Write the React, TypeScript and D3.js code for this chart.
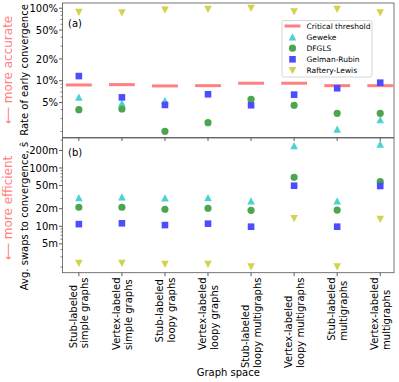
import { useEffect, useRef } from 'react';
import * as d3 from 'd3';

// graph spaces (two-line tick labels)
const categories = [
  ['Stub-labeled', 'simple graphs'],
  ['Vertex-labeled', 'simple graphs'],
  ['Stub-labeled', 'loopy graphs'],
  ['Vertex-labeled', 'loopy graphs'],
  ['Stub-labeled', 'loopy multigraphs'],
  ['Vertex-labeled', 'loopy multigraphs'],
  ['Stub-labeled', 'multigraphs'],
  ['Vertex-labeled', 'multigraphs'],
];

// (a) rate of early convergence, %
const thresholdRate = [8.75, 8.84, 8.48, 8.56, 9.24, 9.24, 8.56, 8.56];
const gewekeRate = [5.9, 4.9, 5.3, null, null, null, 2.14, 2.88];
const dfglsRate = [3.99, 4.08, 2.01, 2.64, 5.56, 4.59, 3.56, 3.56];
const gelmanRate = [11.6, 5.9, 4.64, 6.51, 4.59, 6.43, 7.88, 9.4];
const rafteryRate = [88.1, 86.9, 94.8, 96.9, 100, 89.8, 96.9, 86.9];

// (b) avg swaps to convergence, millions
const gewekeSwaps = [30.9, 31.8, 30.6, 30.9, 27.2, 241, 27.2, 255];
const dfglsSwaps = [21.2, 21.2, 19.6, 20.4, 18.8, 69.2, 19.0, 58.2];
const gelmanSwaps = [10.9, 11.25, 10.5, 11.1, 9.85, 49.7, 9.85, 49.1];
const rafterySwaps = [2.32, 2.32, 2.23, 2.23, 2.03, 13.7, 2.03, 13.2];

const rateTicks = [5, 10, 20, 50, 100];
const swapTicks = [5, 10, 20, 50, 100, 200];

const FONT = 'DejaVu Sans, sans-serif';
const RED = '#ff8080';

const series = [
  { name: 'Geweke', shape: 'up', color: '#4dd2d2' },
  { name: 'DFGLS', shape: 'circle', color: '#4da64d' },
  { name: 'Gelman-Rubin', shape: 'square', color: '#4d4dff' },
  { name: 'Raftery-Lewis', shape: 'down', color: '#d2d24d' },
];

function markerPath(shape: string, x: number, y: number) {
  const h = 3.8;
  if (shape === 'up') return `M${x},${y - h}L${x + h},${y + h * 0.9}L${x - h},${y + h * 0.9}Z`;
  if (shape === 'down') return `M${x},${y + h}L${x + h},${y - h * 0.9}L${x - h},${y - h * 0.9}Z`;
  if (shape === 'square') return `M${x - 3.3},${y - 3.3}h6.6v6.6h-6.6Z`;
  const r = 3.6;
  return `M${x + r},${y}A${r},${r} 0 1,1 ${x - r},${y}A${r},${r} 0 1,1 ${x + r},${y}Z`;
}

export default function App() {
  const svgRef = useRef<SVGSVGElement>(null);

  useEffect(() => {
    const svg = d3.select(svgRef.current);
    svg.selectAll('*').remove();

    const left = 62.5, right = 394;
    const x = d3.scaleLinear().domain([-0.38, 7.32]).range([left, right]);
    const yTop = d3.scaleLog().domain([1.65, 118]).range([137.5, 3]);
    const yBot = d3.scaleLog().domain([1.6, 327]).range([272.7, 138]);

    const panels = [
      { y: yTop, ticks: rateTicks, fmt: (d: number) => `${d}%`, data: [gewekeRate, dfglsRate, gelmanRate, rafteryRate], tag: '(a)', tagY: 27 },
      { y: yBot, ticks: swapTicks, fmt: (d: number) => `${d}m`, data: [gewekeSwaps, dfglsSwaps, gelmanSwaps, rafterySwaps], tag: '(b)', tagY: 155.5 },
    ];

    panels.forEach((p, pi) => {
      const [y0, y1] = p.y.range();
      const g = svg.append('g');

      // minor ticks on log axis
      const [d0, d1] = p.y.domain();
      const minors: number[] = [];
      for (let e = -1; e <= 3; e++) {
        for (let m = 1; m <= 9; m++) {
          const v = m * Math.pow(10, e);
          if (v >= d0 && v <= d1 && !p.ticks.includes(v)) minors.push(v);
        }
      }
      g.selectAll('.minor').data(minors).join('line')
        .attr('x1', left - 2).attr('x2', left)
        .attr('y1', d => p.y(d)).attr('y2', d => p.y(d))
        .attr('stroke', '#333').attr('stroke-width', 0.6);

      g.selectAll('.major').data(p.ticks).join('line')
        .attr('x1', left - 3.5).attr('x2', left)
        .attr('y1', d => p.y(d)).attr('y2', d => p.y(d))
        .attr('stroke', '#333').attr('stroke-width', 0.8);

      g.selectAll('.ylab').data(p.ticks).join('text')
        .attr('x', left - 4.5).attr('y', d => p.y(d))
        .attr('dy', '0.36em')
        .attr('text-anchor', 'end')
        .attr('font-family', FONT).attr('font-size', 10).attr('fill', '#000')
        .text(p.fmt);

      // x ticks
      g.selectAll('.xt').data(categories.map((_, i) => i)).join('line')
        .attr('x1', d => x(d)).attr('x2', d => x(d))
        .attr('y1', y0).attr('y2', y0 + 3.5)
        .attr('stroke', '#333').attr('stroke-width', 0.8);

      // threshold segments
      if (pi === 0) {
        g.selectAll('.thr').data(thresholdRate).join('line')
          .attr('x1', (d, i) => x(i - 0.3)).attr('x2', (d, i) => x(i + 0.3))
          .attr('y1', d => yTop(d)).attr('y2', d => yTop(d))
          .attr('stroke', RED).attr('stroke-width', 3);
      }

      series.forEach((s, si) => {
        const vals = p.data[si];
        g.selectAll(`.m${si}`)
          .data(vals.map((v, i) => ({ v, i })).filter(d => d.v != null))
          .join('path')
          .attr('d', d => markerPath(s.shape, x(d.i), p.y(d.v as number)))
          .attr('fill', s.color);
      });

      g.append('rect')
        .attr('x', left).attr('y', y1)
        .attr('width', right - left).attr('height', y0 - y1)
        .attr('fill', 'none').attr('stroke', '#555').attr('stroke-width', 0.8);

      g.append('text')
        .attr('x', 68).attr('y', p.tagY)
        .attr('font-family', FONT).attr('font-size', 10)
        .text(p.tag);
    });

    // x tick labels, two lines rotated, lines aligned at their start
    categories.forEach((lines, i) => {
      const tg = svg.append('g')
        .attr('transform', `translate(${x(i)},277.5) rotate(-90)`);
      const texts = lines.map((t, li) => tg.append('text')
        .attr('y', li === 0 ? -1.8 : 9.6)
        .attr('font-family', FONT).attr('font-size', 10)
        .text(t));
      const maxLen = d3.max(texts, t => (t.node() as SVGTextElement).getComputedTextLength()) || 0;
      texts.forEach(t => t.attr('x', -maxLen));
    });

    svg.append('text')
      .attr('x', (left + right) / 2).attr('y', 375.5)
      .attr('text-anchor', 'middle')
      .attr('font-family', FONT).attr('font-size', 10)
      .text('Graph space');

    // y labels
    const ylab = (txt: string, cx: number, cy: number, size: number, color: string) =>
      svg.append('text')
        .attr('transform', `translate(${cx},${cy}) rotate(-90)`)
        .attr('text-anchor', 'middle')
        .attr('font-family', FONT).attr('font-size', size).attr('fill', color)
        .text(txt);
    ylab('Rate of early convergence', 28, 70, 10, '#000');
    ylab('Avg. swaps to convergence, ŝ', 28, 216, 10, '#000');
    ylab('⟵ more accurate', 11.5, 70, 12, RED);
    ylab('⟵ more efficient', 11.5, 208, 12, RED);

    // legend
    const lg = svg.append('g').attr('transform', 'translate(282,20.5)');
    lg.append('rect')
      .attr('width', 90).attr('height', 56.5).attr('rx', 2)
      .attr('fill', '#fff').attr('fill-opacity', 0.8)
      .attr('stroke', '#ccc').attr('stroke-width', 0.8);
    const entries = ['Critical threshold', ...series.map(s => s.name)];
    entries.forEach((name, i) => {
      const cy = 5.5 + i * 11.1;
      if (i === 0) {
        lg.append('line').attr('x1', 2.5).attr('x2', 18.5).attr('y1', cy).attr('y2', cy)
          .attr('stroke', RED).attr('stroke-width', 3);
      } else {
        const s = series[i - 1];
        lg.append('path').attr('d', markerPath(s.shape, 10.5, cy)).attr('fill', s.color);
      }
      lg.append('text')
        .attr('x', 24.5).attr('y', cy).attr('dy', '0.36em')
        .attr('font-family', FONT).attr('font-size', 7.5)
        .text(name);
    });
  }, []);

  return (
    <svg
      ref={svgRef}
      width={399}
      height={382}
      style={{ position: 'absolute', left: 0, top: 0, background: '#fff' }}
    />
  );
}
